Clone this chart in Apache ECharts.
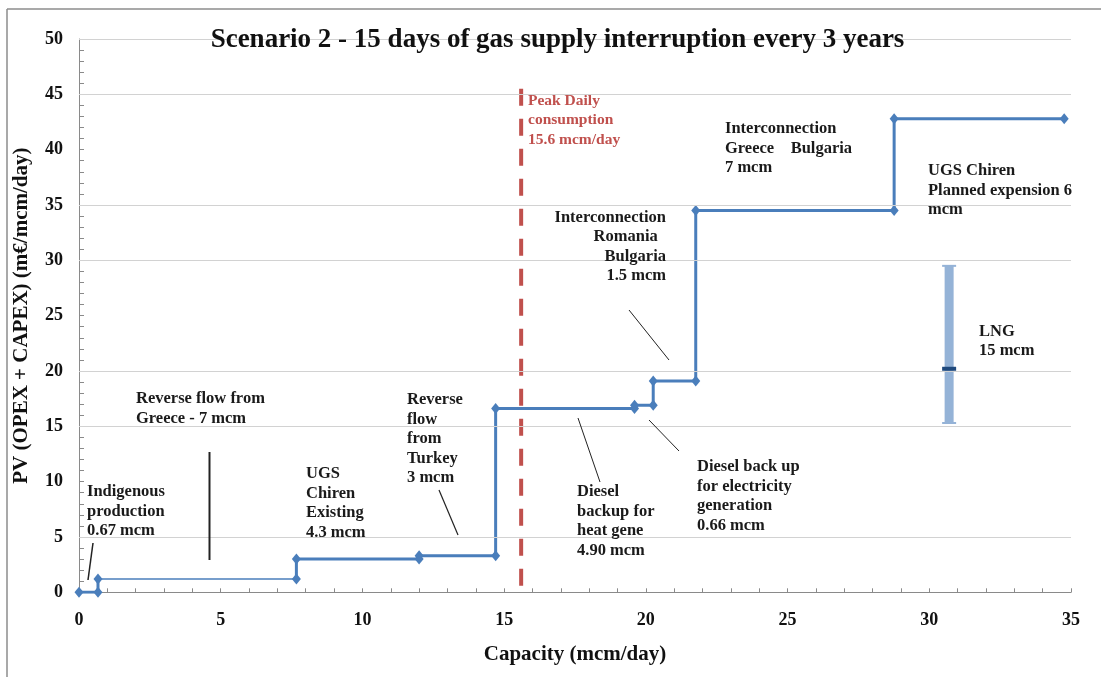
<!DOCTYPE html>
<html>
<head>
<meta charset="utf-8">
<script src="https://cdn.jsdelivr.net/npm/echarts@6/dist/echarts.min.js"></script>
<style>
html,body{margin:0;padding:0;background:#fff;}
#chart{width:1101px;height:677px;}
</style>
</head>
<body>
<div id="chart"></div>
<script>
// ---- data ----
const capacity = [0, 0.67, 0.67, 7.67, 7.67, 12.0, 12.0, 14.7, 14.7, 19.6, 19.6, 20.26, 20.26, 21.76, 21.76, 28.76, 28.76, 34.76];
const cost     = [0, 0,    1.2,  1.2,  3.0,  3.0,  3.3,  3.3,  16.6, 16.6, 16.9, 16.9,  19.1,  19.1,  34.5,  34.5,  42.8,  42.8];
const thinFrom = 2, thinTo = 3;           // segment drawn with the thin line
const peakCapacity = [15.6, 15.6];
const peakCost = [45.5, 0];
const lngCapacity = [30.7];
const lngLow = [15.3];
const lngHigh = [29.5];
const lngMid = [20.2];
const gridValues = [5, 15, 20, 30, 35, 45, 50];   // gridlines visible in the reference

const titleText = 'Scenario 2 - 15 days of gas supply interruption every 3 years';
const xTitle = 'Capacity (mcm/day)';
const yTitle = 'PV (OPEX + CAPEX) (m\u20ac/mcm/day)';

const FONT = '"Liberation Serif", "Times New Roman", serif';
const BLUE = '#4A7EBB';
const pts = (a, b) => capacity.slice(a, b).map((x, i) => [x, cost[a + i]]);

const chart = echarts.init(document.getElementById('chart'), null, {renderer: 'canvas'});

function note(x, y, text, opts) {
  opts = opts || {};
  return {
    type: 'text', z: 50,
    style: {
      x: x, y: y, text: text,
      font: 'bold ' + (opts.size || 16.5) + 'px ' + FONT,
      fill: opts.color || '#1a1a1a',
      lineHeight: opts.lh || 19.5,
      align: opts.align || 'left',
      verticalAlign: 'top'
    }
  };
}
function lead(x1, y1, x2, y2, w) {
  return {type: 'line', z: 50, shape: {x1: x1, y1: y1, x2: x2, y2: y2},
          style: {stroke: '#222', lineWidth: w || 1}};
}
function mask(x, y, w, h) {
  return {type: 'rect', z: 2, shape: {x: x, y: y, width: w, height: h}, style: {fill: '#fff'}};
}

const option = {
  backgroundColor: '#fff',
  animation: false,
  grid: {left: 79, right: 30, top: 39, bottom: 84.7, containLabel: false},
  xAxis: {
    type: 'value', min: 0, max: 35, interval: 5,
    axisLine: {show: true, lineStyle: {color: '#8a8a8a', width: 1}},
    axisTick: {show: true, inside: true, length: 4, lineStyle: {color: '#8a8a8a'}},
    minorTick: {show: true, splitNumber: 5, length: 4, lineStyle: {color: '#8a8a8a'}},
    splitLine: {show: false},
    axisLabel: {fontFamily: FONT, fontWeight: 'bold', fontSize: 18, color: '#111', margin: 19},
    name: xTitle, nameLocation: 'middle', nameGap: 52,
    nameTextStyle: {fontFamily: FONT, fontWeight: 'bold', fontSize: 21, color: '#111'}
  },
  yAxis: {
    type: 'value', min: 0, max: 50, interval: 5,
    axisLine: {show: true, lineStyle: {color: '#8a8a8a', width: 1}},
    axisTick: {show: true, inside: true, length: 5, lineStyle: {color: '#8a8a8a'}},
    minorTick: {show: true, splitNumber: 5, length: 5, lineStyle: {color: '#8a8a8a'}},
    splitLine: {show: false},
    axisLabel: {fontFamily: FONT, fontWeight: 'bold', fontSize: 18, color: '#111', margin: 16},
    name: yTitle, nameLocation: 'middle', nameGap: 47, nameRotate: 90,
    nameTextStyle: {fontFamily: FONT, fontWeight: 'bold', fontSize: 21, color: '#111'}
  },
  series: [
    {
      type: 'line', data: [], z: 1, silent: true,
      markLine: {
        silent: true, symbol: ['none', 'none'], label: {show: false},
        lineStyle: {color: '#d2d2d2', width: 1, type: 'solid'},
        emphasis: {disabled: true},
        data: gridValues.map(v => ({yAxis: v}))
      }
    },
    {
      type: 'line', data: pts(0, thinFrom + 1), z: 3,
      lineStyle: {color: BLUE, width: 3}, itemStyle: {color: BLUE},
      symbol: 'diamond', symbolSize: [9, 11], showAllSymbol: true
    },
    {
      type: 'line', data: pts(thinFrom, thinTo + 1), z: 3,
      lineStyle: {color: BLUE, width: 1.6}, itemStyle: {color: BLUE},
      symbol: 'none'
    },
    {
      type: 'line', data: pts(thinTo, capacity.length), z: 3,
      lineStyle: {color: BLUE, width: 3}, itemStyle: {color: BLUE},
      symbol: 'diamond', symbolSize: [9, 11], showAllSymbol: true
    },
    {
      type: 'line', data: peakCapacity.map((x, i) => [x, peakCost[i]]), z: 4,
      lineStyle: {color: '#C0504D', width: 4, type: [17, 13]},
      symbol: 'none'
    },
    {
      type: 'custom', z: 3,
      data: lngCapacity.map((x, i) => [x, lngLow[i], lngHigh[i], lngMid[i]]),
      encode: {x: 0, y: [1, 2, 3]},
      renderItem: function (params, api) {
        const x = api.value(0);
        const pLo = api.coord([x, api.value(1)]);
        const pHi = api.coord([x, api.value(2)]);
        const pMid = api.coord([x, api.value(3)]);
        const cx = pLo[0];
        return {
          type: 'group',
          children: [
            {type: 'rect', shape: {x: cx - 4.5, y: pHi[1], width: 9, height: pLo[1] - pHi[1]},
             style: {fill: '#95B3D7'}},
            {type: 'line', shape: {x1: cx - 7, y1: pHi[1], x2: cx + 7, y2: pHi[1]},
             style: {stroke: '#95B3D7', lineWidth: 2}},
            {type: 'line', shape: {x1: cx - 7, y1: pLo[1], x2: cx + 7, y2: pLo[1]},
             style: {stroke: '#95B3D7', lineWidth: 2}},
            {type: 'rect', shape: {x: cx - 7, y: pMid[1] - 2, width: 14, height: 4},
             style: {fill: '#1F497D'}}
          ]
        };
      }
    }
  ],
  graphic: [
    // outer frame
    {type: 'line', z: 50, shape: {x1: 7, y1: 9, x2: 1101, y2: 9}, style: {stroke: '#8c8c8c', lineWidth: 1.5}},
    {type: 'line', z: 50, shape: {x1: 7, y1: 9, x2: 7, y2: 677}, style: {stroke: '#8c8c8c', lineWidth: 1.5}},
    // white label boxes hiding gridlines
    mask(200, 36, 715, 6),
    mask(125, 423, 173, 6),
    mask(396, 423, 90, 6),
    mask(566, 534, 103, 6),
    mask(685, 534, 133, 6),
    mask(915, 202, 160, 6),
    // title
    {type: 'text', z: 50, style: {x: 557.5, y: 40, text: titleText, font: 'bold 27px ' + FONT,
      fill: '#111', align: 'center', verticalAlign: 'middle'}},
    // annotations
    note(87, 482, 'Indigenous\nproduction\n0.67 mcm'),
    lead(93, 543, 88, 580, 1.5),
    note(136, 389, 'Reverse flow from\nGreece - 7 mcm'),
    lead(209.5, 452, 209.5, 560, 2),
    note(306, 464, 'UGS\nChiren\nExisting\n4.3 mcm'),
    note(407, 390, 'Reverse\nflow\nfrom\nTurkey\n3 mcm'),
    lead(439, 490, 458, 535, 1.2),
    note(528, 91, 'Peak Daily\nconsumption\n15.6 mcm/day', {color: '#C0504D', size: 15.5}),
    note(666, 207.5, 'Interconnection\nRomania\u2002\nBulgaria\n1.5 mcm', {align: 'right'}),
    lead(629, 310, 669, 360, 1),
    note(577, 482, 'Diesel\nbackup for\nheat gene\n4.90 mcm'),
    lead(578, 418, 600, 482, 1),
    note(697, 457, 'Diesel back up\nfor electricity\ngeneration\n0.66 mcm'),
    lead(649, 420, 679, 451, 1),
    note(725, 119, 'Interconnection\nGreece\u2003Bulgaria\n7 mcm'),
    note(928, 161, 'UGS Chiren\nPlanned expension 6\nmcm'),
    note(979, 322, 'LNG\n15 mcm', {lh: 19})
  ]
};
chart.setOption(option);
</script>
</body>
</html>
